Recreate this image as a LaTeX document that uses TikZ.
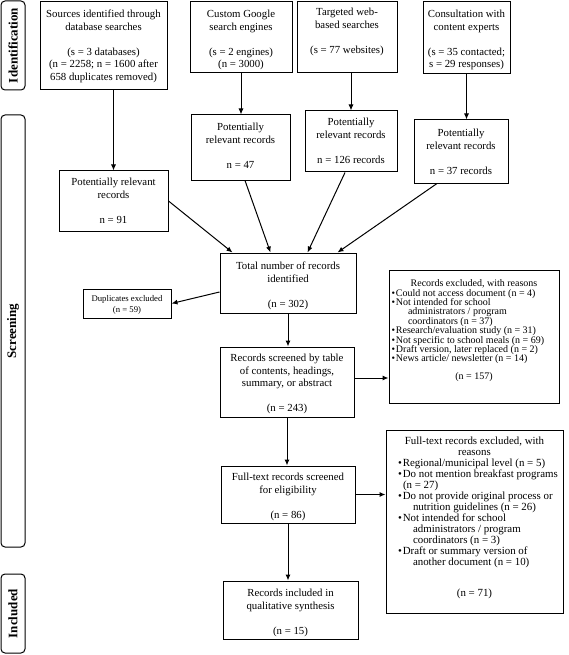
\documentclass[tikz,border=0pt]{standalone}
\usepackage{fontspec}
\setmainfont{Liberation Serif}
\usepackage{graphicx}
\usetikzlibrary{arrows.meta}
\newcommand{\bx}[4]{\parbox[c][#2pt][t]{#1pt}{\centering\rule{0pt}{#3pt}#4}}
\newcommand{\bul}[2]{\mbox{\hspace*{#1pt}\textbullet\hspace{1pt}#2}\\}
\newcommand{\cnt}[2]{\mbox{\hspace*{#1pt}#2}\\}
\begin{document}
\begin{tikzpicture}[x=1pt,y=-1pt,
  box/.style={draw, line width=1pt, inner sep=0pt, fill=white},
  side/.style={draw, line width=1pt, rounded corners=4pt, inner sep=0pt},
  arr/.style={line width=1pt, -{Latex[length=6pt,width=5pt]}},
  font=\fontsize{10.8}{12.5}\selectfont]
\useasboundingbox (0,0) rectangle (568,655);

% side labels
\node[side, minimum width=24pt, minimum height=89pt] (sid) at (13,45.5) {\rotatebox{90}{\fontsize{13}{13}\selectfont\bfseries Identification}};
\node[side, minimum width=24pt, minimum height=432pt] (sscr) at (13,331) {\rotatebox{90}{\fontsize{13}{13}\selectfont\bfseries Screening}};
\node[side, minimum width=24pt, minimum height=79pt] (sinc) at (13,613.5) {\rotatebox{90}{\fontsize{13}{13}\selectfont\bfseries Included}};

% identification boxes
\node[box] (src) at (103.5,46) {\bx{127}{88}{15.6}{Sources identified through\\ database searches\\[12.5pt] (s = 3 databases)\\ (n = 2258; n = 1600 after\\ 658 duplicates removed)}};
\node[box] (goo) at (241,37.5) {\bx{102}{71}{15.6}{Custom Google\\ search engines\\[12.5pt] (s = 2 engines)\\ (n = 3000)}};
\node[box] (tar) at (347,37.5) {\bx{100}{71}{13.6}{Targeted web-\\ based searches\\[12.5pt] (s = 77 websites)}};
\node[box] (con) at (466.5,38) {\bx{87}{72}{15.6}{Consultation with\\ content experts\\[12.5pt] (s = 35 contacted;\\ s = 29 responses)}};

% potentially relevant
\node[box] (srcp) at (113.5,201) {\bx{109}{60}{14.6}{Potentially relevant\\ records\\[12.5pt] n = 91}};
\node[box] (goop) at (240.5,147.5) {\bx{99}{65}{15.6}{Potentially\\ relevant records\\[12.5pt] n = 47}};
\node[box] (tarp) at (351,141.5) {\bx{92}{61}{14.6}{Potentially\\ relevant records\\[12.5pt] n = 126 records}};
\node[box] (conp) at (461,151.5) {\bx{94}{63}{16.6}{Potentially\\ relevant records\\[12.5pt] n = 37 records}};

% main column
\node[box] (tot) at (288,283) {\bx{136}{60}{16.6}{Total number of records\\ identified\\[12.5pt] (n = 302)}};
\node[box] (dup) at (127,303.5) {\parbox[c][29pt][t]{88pt}{\fontsize{8.7}{11}\selectfont\centering\rule{0pt}{12.9pt}Duplicates excluded\\ (n = 59)}};
\node[box] (scr) at (287,382) {\bx{134}{70}{14.6}{Records screened by table\\ of contents, headings,\\ summary, or abstract\\[12.5pt] (n = 243)}};
\node[box] (ful) at (288,494.5) {\bx{134}{57}{14.6}{Full-text records screened\\ for eligibility\\[12.5pt] (n = 86)}};
\node[box] (inc) at (290.5,610) {\bx{135}{58}{15.6}{Records included in\\ qualitative synthesis\\[12.5pt] (n = 15)}};

% exclusion boxes
\node[box] (exc1) at (474,336.5) {\parbox[c][133pt][t]{170pt}{\fontsize{10}{9.4}\selectfont
\centering\rule{0pt}{16.6pt}Records excluded, with reasons\par
\raggedright
\bul{2.5}{Could not access document (n = 4)}
\bul{2.5}{Not intended for school}
\cnt{19}{administrators / program}
\cnt{19}{coordinators (n = 37)}
\bul{2.5}{Research/evaluation study (n = 31)}
\bul{2.5}{Not specific to school meals (n = 69)}
\bul{2.5}{Draft version, later replaced (n = 2)}
\mbox{\hspace*{2.5pt}\textbullet\hspace{1pt}News article/ newsletter (n = 14)}\par
\vspace{8.6pt}\centering (n = 157)\par}};

\node[box] (exc2) at (474.5,521.5) {\parbox[c][183pt][t]{177pt}{\fontsize{10.9}{11}\selectfont
\centering\rule{0pt}{14.3pt}Full-text records excluded, with\\ reasons\par
\raggedright
\bul{12}{Regional/municipal level (n = 5)}
\bul{12}{Do not mention breakfast programs}
\cnt{17}{(n = 27)}
\bul{12}{Do not provide original process or}
\cnt{27}{nutrition guidelines (n = 26)}
\bul{12}{Not intended for school}
\cnt{27}{administrators / program}
\cnt{27}{coordinators (n = 3)}
\bul{12}{Draft or summary version of}
\mbox{\hspace*{27pt}another document (n = 10)}\par
\vspace{20.3pt}\centering (n = 71)\par}};

% connectors
\draw[arr] (srcp.north |- src.south) -- (srcp.north);
\draw[arr] (goo.south) -- (goo.south |- goop.north);
\draw[arr] (tarp.north |- tar.south) -- (tarp.north);
\draw[arr] (con.south) -- (con.south |- conp.north);
\draw[arr] (srcp.east) -- ([xshift=13pt]tot.north west);
\draw[arr] ([xshift=4.5pt]goop.south) -- ([xshift=51pt]tot.north west);
\draw[arr] ([xshift=-6pt]tarp.south) -- ([xshift=88pt]tot.north west);
\draw[arr] ([xshift=-24pt]conp.south) -- ([xshift=-19pt]tot.north east);
\draw[arr] ([yshift=-9pt]tot.west) -- (dup.east);
\draw[arr] (tot.south) -- (tot.south |- scr.north);
\coordinate (a1) at ([yshift=4pt]scr.east);
\draw[arr] (a1) -- (a1 -| exc1.west);
\draw[arr] (scr.south) -- (scr.south |- ful.north);
\draw[arr] (ful.east) -- (ful.east -| exc2.west);
\draw[arr] (ful.south) -- (ful.south |- inc.north);
\end{tikzpicture}
\end{document}
